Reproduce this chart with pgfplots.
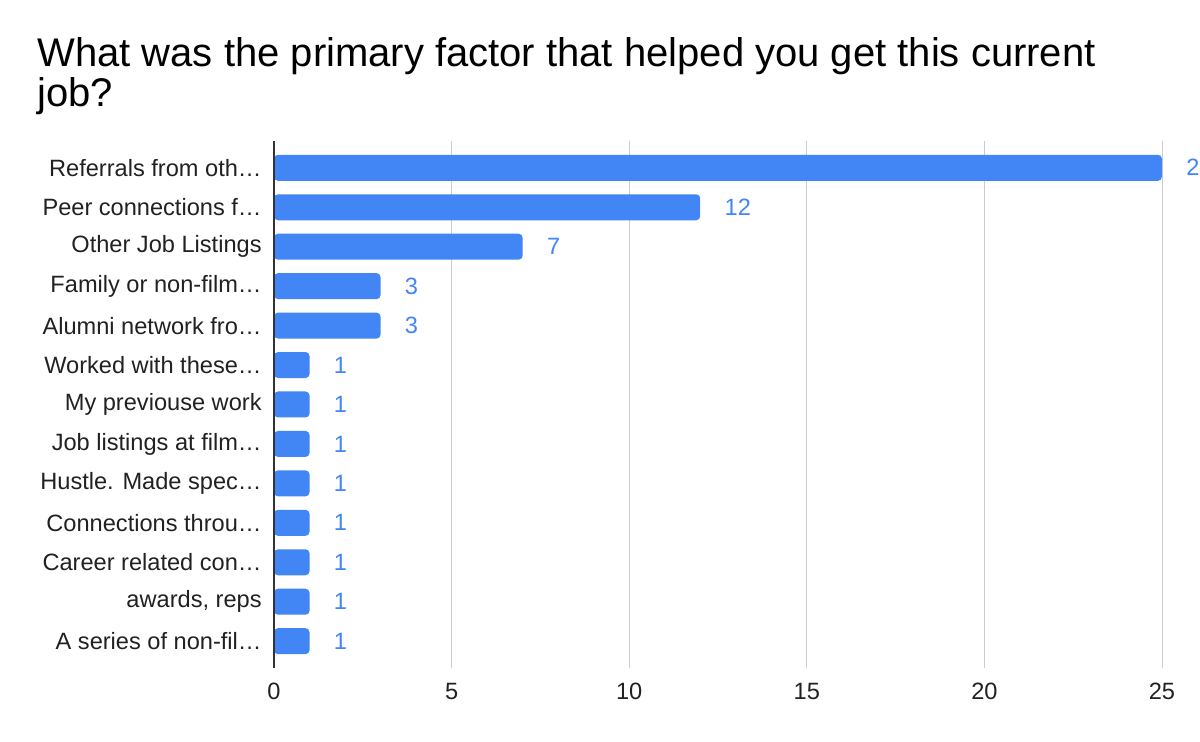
\documentclass[border=0pt]{standalone}
\usepackage{pgfplots}
\pgfplotsset{compat=1.18}
\usepackage{fontspec}
\setmainfont{Liberation Sans}
\definecolor{gblue}{HTML}{4285F4}
\definecolor{ggrid}{HTML}{CCCCCC}
\definecolor{gaxis}{HTML}{333333}
\begin{document}
\begin{tikzpicture}
\useasboundingbox (0,0) rectangle (600pt,371pt);
\clip (0,0) rectangle (600pt,371pt);
\node[anchor=base west, font=\fontsize{20pt}{22pt}\selectfont, inner sep=0pt] at (18.5pt,337.5pt) {What was the primary factor that helped you get this current};
\node[anchor=base west, font=\fontsize{20pt}{22pt}\selectfont, inner sep=0pt] at (18.5pt,317.5pt) {job?};
\begin{axis}[
  at={(137pt,37pt)}, anchor=south west,
  scale only axis, width=444pt, height=263.5pt,
  xbar, bar width=13pt,
  xmin=0, xmax=25, ymin=-0.68, ymax=12.68, y dir=reverse,
  axis line style={draw=none},
  major tick length=0pt,
  xtick={0,5,10,15,20,25},
  xmajorgrids, major x grid style={ggrid, line width=0.5pt},
  ytick={0,1,2,3,4,5,6,7,8,9,10,11,12},
  yticklabels={Referrals from oth…, Peer connections f…, Other Job Listings, Family or non-film…, Alumni network fro…, Worked with these…, My previouse work, Job listings at film…, Hustle. Made spec…, Connections throu…, Career related con…, {awards, reps}, A series of non-fil…},
  /pgf/number format/assume math mode=true,
  tick label style={font=\fontsize{11.8pt}{13pt}\selectfont, text=black!87},
  yticklabel style={inner sep=0pt, xshift=-6pt},
  xticklabel style={inner sep=0pt, anchor=north, yshift=-7.5pt},
  nodes near coords,
  point meta=x,
  nodes near coords style={anchor=west, inner sep=0pt, xshift=12pt, text=gblue, font=\fontsize{11.8pt}{13pt}\selectfont},
  clip=false,
]
\addplot[fill=gblue, draw=none, rounded corners=2pt] coordinates {(25,0) (12,1) (7,2) (3,3) (3,4) (1,5) (1,6) (1,7) (1,8) (1,9) (1,10) (1,11) (1,12)};
\draw[gaxis, line width=1pt] (axis cs:0,-0.68) -- (axis cs:0,12.68);
\end{axis}
\end{tikzpicture}
\end{document}
